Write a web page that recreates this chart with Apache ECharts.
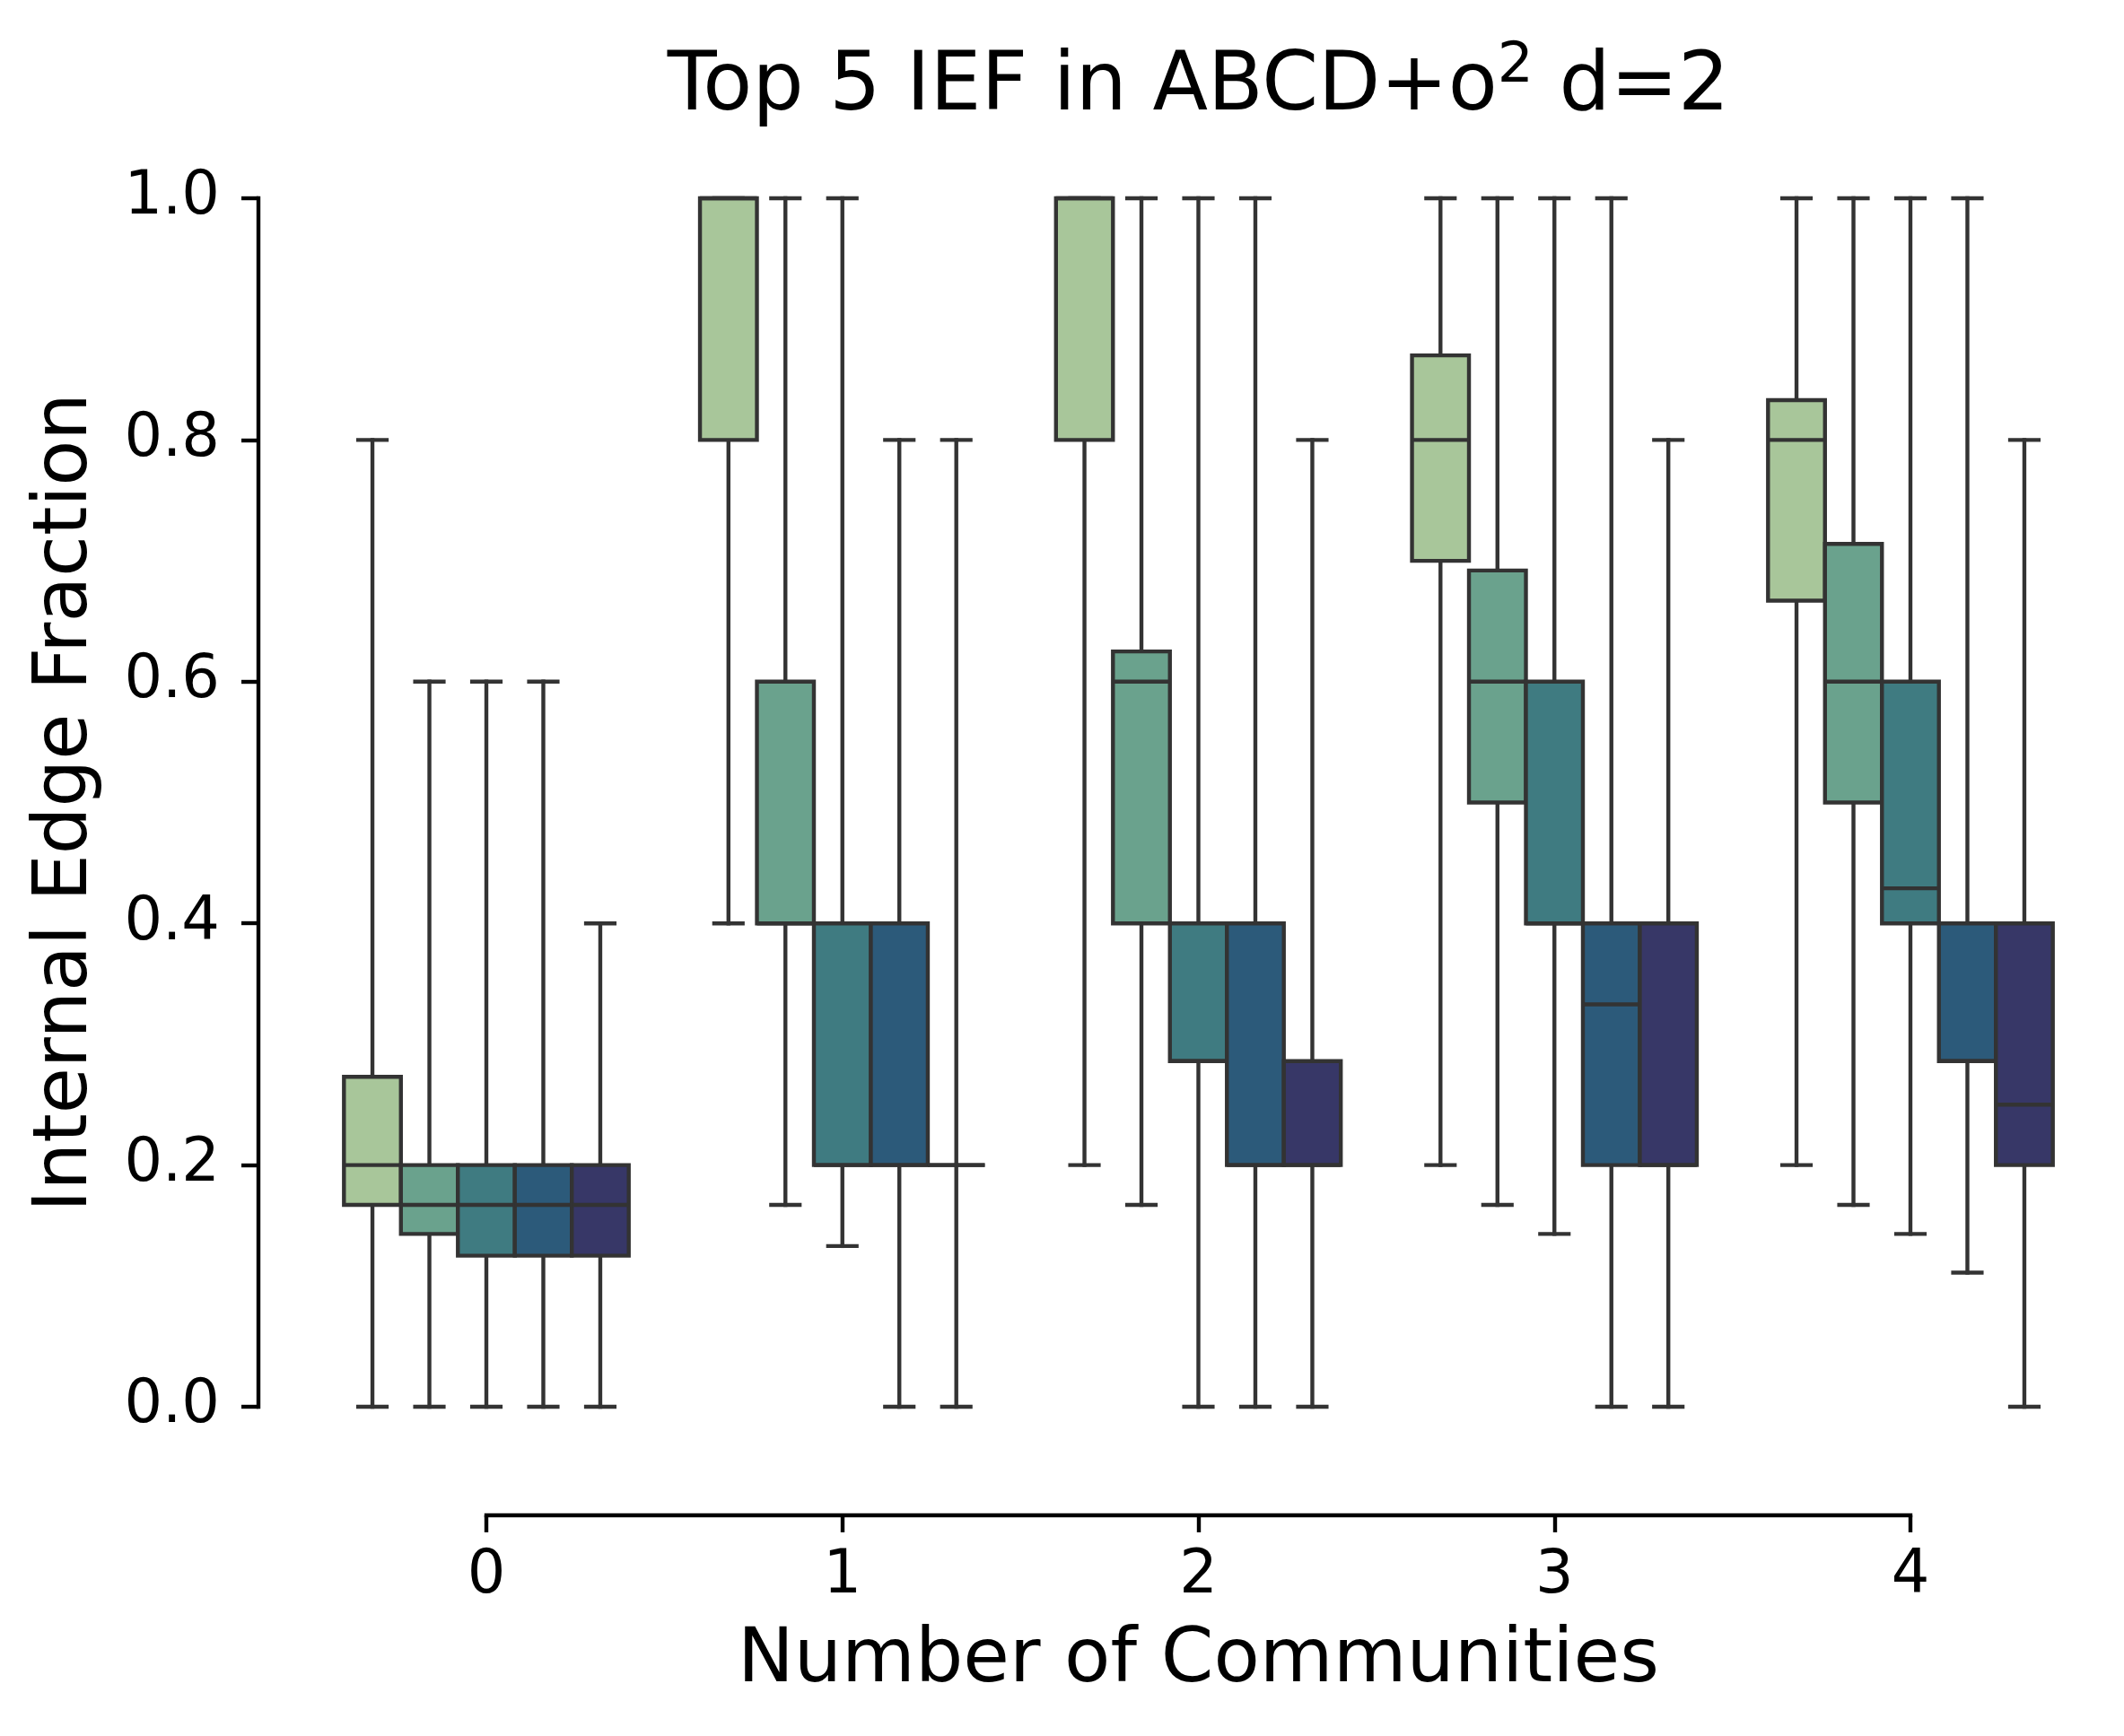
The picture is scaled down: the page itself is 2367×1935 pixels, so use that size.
<!DOCTYPE html>
<html>
<head>
<meta charset="utf-8">
<script src="https://cdn.jsdelivr.net/npm/echarts@6/dist/echarts.min.js"></script>
<style>
html,body{margin:0;padding:0;background:#ffffff;}
#chart{width:2367px;height:1935px;}
</style>
</head>
<body>
<div id="chart"></div>
<script>
// ---- data (box statistics per category: [lowWhisker, Q1, median, Q3, highWhisker]) ----
const categories = ['0', '1', '2', '3', '4'];
const hueNames = ['Top 1', 'Top 2', 'Top 3', 'Top 4', 'Top 5'];
const yTickLabels = ['0.0', '0.2', '0.4', '0.6', '0.8', '1.0'];

const top1 = [
  [0.0,   0.167, 0.2,   0.273, 0.8],
  [0.4,   0.8,   1.0,   1.0,   1.0],
  [0.2,   0.8,   1.0,   1.0,   1.0],
  [0.2,   0.7,   0.8,   0.87,  1.0],
  [0.2,   0.667, 0.8,   0.833, 1.0]
];
const top2 = [
  [0.0,   0.143, 0.167, 0.2,   0.6],
  [0.167, 0.4,   0.4,   0.6,   1.0],
  [0.167, 0.4,   0.6,   0.625, 1.0],
  [0.167, 0.5,   0.6,   0.692, 1.0],
  [0.167, 0.5,   0.6,   0.714, 1.0]
];
const top3 = [
  [0.0,   0.125, 0.167, 0.2,   0.6],
  [0.133, 0.2,   0.2,   0.4,   1.0],
  [0.0,   0.286, 0.286, 0.4,   1.0],
  [0.143, 0.4,   0.4,   0.6,   1.0],
  [0.143, 0.4,   0.429, 0.6,   1.0]
];
const top4 = [
  [0.0,   0.125, 0.167, 0.2,   0.6],
  [0.0,   0.2,   0.2,   0.4,   0.8],
  [0.0,   0.2,   0.2,   0.4,   1.0],
  [0.0,   0.2,   0.333, 0.4,   1.0],
  [0.111, 0.286, 0.286, 0.4,   1.0]
];
const top5 = [
  [0.0,   0.125, 0.167, 0.2,   0.4],
  [0.0,   0.2,   0.2,   0.2,   0.8],
  [0.0,   0.2,   0.2,   0.286, 0.8],
  [0.0,   0.2,   0.2,   0.4,   0.8],
  [0.0,   0.2,   0.25,  0.4,   0.8]
];

const allStats = [top1, top2, top3, top4, top5];
const palette = ['#a8c69a', '#6aa28d', '#3f7b81', '#2c5a7a', '#373767'];

const BOX_W = 0.16;   // width of one hue box in category units
const CAP_W = 0.08;   // whisker cap width
const EDGE = '#333333';
const LW = 4.4;
const FONT = 'DejaVu Sans';

function renderBox(params, api) {
  const x = api.value(0);
  const lo = api.value(1), q1 = api.value(2), med = api.value(3), q3 = api.value(4), hi = api.value(5);
  const pLo = api.coord([x, lo]);
  const pQ1 = api.coord([x, q1]);
  const pQ3 = api.coord([x, q3]);
  const pHi = api.coord([x, hi]);
  const tl = api.coord([x - BOX_W / 2, q3]);
  const br = api.coord([x + BOX_W / 2, q1]);
  const mL = api.coord([x - BOX_W / 2, med]);
  const mR = api.coord([x + BOX_W / 2, med]);
  const cLoL = api.coord([x - CAP_W / 2, lo]);
  const cLoR = api.coord([x + CAP_W / 2, lo]);
  const cHiL = api.coord([x - CAP_W / 2, hi]);
  const cHiR = api.coord([x + CAP_W / 2, hi]);
  const ls = { stroke: EDGE, lineWidth: LW, lineCap: 'square' };
  return {
    type: 'group',
    children: [
      { type: 'line', shape: { x1: pQ3[0], y1: pQ3[1], x2: pHi[0], y2: pHi[1] }, style: ls },
      { type: 'line', shape: { x1: pQ1[0], y1: pQ1[1], x2: pLo[0], y2: pLo[1] }, style: ls },
      { type: 'line', shape: { x1: cHiL[0], y1: cHiL[1], x2: cHiR[0], y2: cHiR[1] }, style: ls },
      { type: 'line', shape: { x1: cLoL[0], y1: cLoL[1], x2: cLoR[0], y2: cLoR[1] }, style: ls },
      { type: 'rect', shape: { x: tl[0], y: tl[1], width: br[0] - tl[0], height: br[1] - tl[1] },
        style: { fill: api.visual('color'), stroke: EDGE, lineWidth: LW, lineJoin: 'miter' } },
      { type: 'line', shape: { x1: mL[0], y1: mL[1], x2: mR[0], y2: mR[1] }, style: { stroke: EDGE, lineWidth: LW } }
    ]
  };
}

const series = allStats.map(function (stats, h) {
  return {
    name: hueNames[h],
    type: 'custom',
    renderItem: renderBox,
    xAxisIndex: 0,
    yAxisIndex: 0,
    itemStyle: { color: palette[h] },
    encode: { x: 0, y: [1, 2, 3, 4, 5] },
    data: stats.map(function (s, ci) {
      return [ci + (h - 2) * BOX_W, s[0], s[1], s[2], s[3], s[4]];
    }),
    z: 2 + h
  };
});

const axisLineStyle = { color: '#000000', width: 4.4, cap: 'square' };
const tickStyle = { show: true, inside: false, length: 19, lineStyle: { color: '#000000', width: 4.4 } };

const chart = echarts.init(document.getElementById('chart'), null, { renderer: 'canvas' });
chart.setOption({
  animation: false,
  backgroundColor: '#ffffff',
  title: {
    text: 'Top 5 IEF in ABCD+o{sup|2} d=2',
    left: 1335.5,
    top: 43,
    textAlign: 'center',
    padding: 0,
    textStyle: {
      fontFamily: FONT, fontSize: 90, fontWeight: 'normal', color: '#000000', lineHeight: 112,
      rich: {
        sup: { fontFamily: FONT, fontSize: 63, color: '#000000', verticalAlign: 'top' }
      }
    }
  },
  grid: [
    // data area: x 0..4 and y 0..1 map to the trimmed spines
    { left: 542, top: 221, width: 1587, height: 1347, containLabel: false },
    // offset left spine
    { left: 288, top: 221, width: 10, height: 1347, containLabel: false },
    // offset bottom spine
    { left: 542, top: 1589, width: 1587, height: 100, containLabel: false }
  ],
  xAxis: [
    { gridIndex: 0, type: 'value', min: 0, max: 4, interval: 1, show: false },
    { gridIndex: 1, type: 'value', min: 0, max: 1, show: false },
    {
      gridIndex: 2, type: 'value', min: 0, max: 4, interval: 1, position: 'bottom',
      axisLine: { show: true, lineStyle: axisLineStyle },
      axisTick: tickStyle,
      axisLabel: {
        show: true, margin: 35, fontFamily: FONT, fontSize: 67, lineHeight: 67, color: '#000000',
        formatter: function (v) { return categories[Math.round(v)]; }
      },
      splitLine: { show: false },
      name: 'Number of Communities', nameLocation: 'middle', nameGap: 121,
      nameTextStyle: { fontFamily: FONT, fontSize: 84, lineHeight: 84, color: '#000000' }
    }
  ],
  yAxis: [
    { gridIndex: 0, type: 'value', min: 0, max: 1, interval: 0.2, show: false },
    {
      gridIndex: 1, type: 'value', min: 0, max: 1, interval: 0.2, position: 'left',
      axisLine: { show: true, lineStyle: axisLineStyle },
      axisTick: tickStyle,
      axisLabel: {
        show: true, margin: 43, fontFamily: FONT, fontSize: 67, color: '#000000',
        formatter: function (v) { return yTickLabels[Math.round(v / 0.2)]; }
      },
      splitLine: { show: false },
      name: 'Internal Edge Fraction', nameLocation: 'middle', nameGap: 172,
      nameTextStyle: { fontFamily: FONT, fontSize: 83, lineHeight: 83, color: '#000000' }
    },
    { gridIndex: 2, type: 'value', min: 0, max: 1, show: false }
  ],
  series: series
});
</script>
</body>
</html>
